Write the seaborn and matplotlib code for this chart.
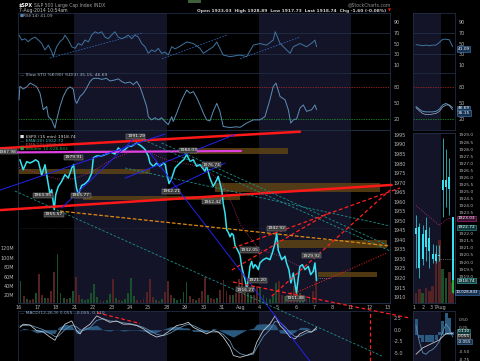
import numpy as np
import pandas as pd
import matplotlib
matplotlib.use("Agg")
import matplotlib.pyplot as plt
import seaborn as sns

# ---------------- values ----------------
day_labels = ['16', '17', '18', '21', '22', '23', '24', '25', '28', '29', '30',
              '31', 'Aug', '4', '5', '6', '7', '8', '11', '12', '13']
week_spans = [(3, 8), (13, 18)]          # shaded weeks (trading-day index)

# $SPX 15 min close, time in trading days since 16 Jul
price_t = [0.05, 0.23, 0.42, 0.6, 0.78, 0.9, 1.05, 1.23, 1.41, 1.59,
           1.68, 1.77, 1.91, 1.99, 2.13, 2.31, 2.49, 2.67, 2.86, 2.96,
           3.04, 3.12, 3.22, 3.4, 3.58, 3.76, 3.94, 4.03, 4.21, 4.48,
           4.75, 4.97, 5.2, 5.38, 5.57, 5.75, 5.92, 6.1, 6.38, 6.65,
           6.83, 7.01, 7.1, 7.28, 7.46, 7.64, 7.82, 7.93, 8.01, 8.13,
           8.28, 8.46, 8.64, 8.82, 8.93, 9.09, 9.27, 9.45, 9.63, 9.81,
           9.94, 10.08, 10.17, 10.35, 10.53, 10.72, 10.8, 10.99, 11.07, 11.17,
           11.26, 11.34, 11.44, 11.53, 11.62, 11.71, 11.85, 11.98, 12.07, 12.25,
           12.34, 12.43, 12.52, 12.61, 12.7, 12.79, 12.88, 12.97, 13.06, 13.24,
           13.42, 13.6, 13.73, 13.88, 13.97, 14.05, 14.24, 14.42, 14.5, 14.63,
           14.74, 14.87, 14.98, 15.04, 15.15, 15.23, 15.36, 15.5, 15.68, 15.81,
           15.95, 16.04, 16.13]
price_v = [1982, 1976.8, 1981, 1980.3, 1981.2, 1982, 1981, 1974, 1979.4, 1969,
           1963.8, 1966.3, 1955.8, 1963.7, 1968, 1970.6, 1974.2, 1972.4, 1977.7, 1979.5,
           1972.4, 1967, 1964, 1968.5, 1969.4, 1971.2, 1975, 1983, 1984, 1984,
           1985, 1986, 1985, 1988.2, 1986.4, 1987.3, 1989, 1989.1, 1990.8, 1989,
           1987.4, 1983.9, 1980.3, 1978.5, 1980.3, 1978.5, 1980.3, 1979.5, 1975, 1969.5,
           1972.4, 1977.7, 1979.5, 1981.2, 1982, 1984.7, 1981.2, 1982, 1978.6, 1979.5,
           1977.7, 1976, 1978.6, 1972.4, 1968, 1971.5, 1973.3, 1966, 1959, 1953.8,
           1945.2, 1944, 1941.6, 1943.4, 1942.5, 1937, 1934.7, 1932, 1926.1, 1919,
           1914.6, 1919, 1926.1, 1928.7, 1925.2, 1927, 1926.1, 1924.4, 1927.9, 1929.6,
           1930.5, 1929.6, 1933.1, 1938.3, 1943.4, 1934.7, 1929.6, 1931.4, 1927.9, 1924.4,
           1917.4, 1922.6, 1915.6, 1912.1, 1921, 1926.1, 1927, 1924.4, 1926.1, 1921.8,
           1923.5, 1927.9, 1918.7]
prev_close = 1920.24

ema_t = [0, 2, 3, 4, 5, 6, 7, 8, 9, 10, 11, 11.5, 12, 13, 14, 15, 16.13]
ema_v = [1978, 1972, 1972, 1976, 1982, 1986, 1986, 1982, 1980, 1978, 1970, 1960,
         1948, 1935, 1932, 1927, 1923]

# volume (millions), six slots per day
vol_by_day = [[50, 18, 12, 10, 12, 25], [65, 20, 15, 14, 30, 70],
              [109, 25, 15, 12, 14, 30], [60, 20, 12, 10, 12, 25],
              [45, 16, 10, 9, 11, 24], [54, 15, 10, 9, 12, 26],
              [58, 18, 11, 10, 12, 28], [54, 16, 10, 9, 13, 27],
              [50, 20, 14, 10, 12, 28], [48, 18, 12, 10, 14, 30],
              [60, 22, 14, 12, 15, 32], [53, 30, 22, 20, 25, 55],
              [82, 35, 25, 20, 22, 40], [35, 20, 14, 12, 18, 46],
              [50, 22, 18, 20, 28, 40], [46, 25, 15, 12, 16, 30], [75]]
vol_dirs = ['grgrrg', 'rrgrrr', 'gggrgg', 'rrgggg', 'ggrggg', 'rgrggg',
            'ggrrrr', 'rrgrgr', 'rrgggg', 'grrgrr', 'rgrrgr', 'rrrgrr',
            'rrggrr', 'gggggg', 'rrgrrr', 'rggrgr', 'r']

rsi_t = [0.0, 0.15, 0.33, 0.5, 0.69, 0.87, 1.05, 1.23, 1.41, 1.59,
         1.77, 1.86, 2.04, 2.22, 2.4, 2.49, 2.67, 2.86, 3.04, 3.21,
         3.4, 3.58, 3.76, 3.94, 4.12, 4.3, 4.48, 4.66, 4.84, 5.02,
         5.2, 5.38, 5.57, 5.75, 5.92, 6.11, 6.29, 6.47, 6.65, 6.83,
         7.01, 7.19, 7.37, 7.55, 7.73, 7.91, 8.09, 8.28, 8.46, 8.73,
         9.09, 9.45, 9.81, 9.99, 10.53, 10.72, 10.89, 11.07, 11.44, 11.98,
         12.34, 12.7, 13.06, 13.42, 13.78, 13.89, 14.15, 14.51, 14.69, 14.87,
         15.23, 15.59, 15.95, 16.04, 16.13]
rsi_v = [65.8, 56.5, 59, 53.4, 59, 62, 56.5, 50.3, 38, 47,
         34.8, 25.5, 44, 53.4, 59, 65.8, 56.5, 44, 41, 50,
         47, 56.5, 53, 65.8, 72, 69, 72, 62, 59, 65.8,
         72, 62, 59, 62, 65.8, 59, 65.8, 62, 50, 44,
         31.7, 38, 35, 41, 31.7, 34, 28.6, 44, 40, 45,
         53, 50, 41, 31.7, 44, 53, 41, 28.6, 25.5, 28.6,
         25.5, 47, 50, 47, 56.5, 72, 50, 38, 31.7, 44,
         50, 44, 53, 56.5, 44]
rsi_trends = [((1.68, 23), (6.72, 70)), ((7.75, 21.4), (11.27, 65.8)),
              ((11.98, 21.4), (15.23, 62))]

sto_t = [0.0, 0.05, 0.23, 0.42, 0.6, 0.78, 0.96, 1.14, 1.32, 1.5,
         1.59, 1.77, 1.95, 2.04, 2.22, 2.4, 2.59, 2.76, 2.94, 3.04,
         3.13, 3.31, 3.49, 3.67, 3.85, 4.03, 4.3, 4.48, 4.75, 4.93,
         5.2, 5.38, 5.57, 5.75, 6.02, 6.2, 6.38, 6.56, 6.74, 6.92,
         7.01, 7.19, 7.37, 7.55, 7.73, 7.91, 8.09, 8.28, 8.36, 8.55,
         8.82, 9.09, 9.27, 9.45, 9.63, 9.81, 9.99, 10.17, 10.35, 10.53,
         10.72, 10.89, 11.07, 11.44, 11.8, 11.98, 12.34, 12.7, 13.06, 13.33,
         13.6, 13.78, 13.93, 14.15, 14.42, 14.6, 14.73, 14.87, 15.05, 15.23,
         15.41, 15.59, 15.86, 16.04, 16.13]
sto_v = [55.6, 81, 76, 80, 87, 84, 80, 68, 37, 43,
         24, 18, 2.5, 18, 43, 62, 75, 80, 76, 55,
         49, 62, 68, 78, 90, 96, 96, 94, 96, 91,
         93, 95, 90, 87, 89, 84, 90, 80, 62, 43,
         24, 18, 22, 18, 22, 15, 9, 24, 15, 31,
         55.6, 74, 68, 71, 60, 46, 31, 18, 16, 34,
         49, 34, 5.5, 3.7, 5, 4, 12, 18, 18, 24,
         55.6, 80.6, 87, 62, 55.6, 37, 12, 18, 20, 40,
         46, 34, 37, 46, 37]

macd_t = [0.05, 0.23, 0.6, 0.96, 1.32, 1.68, 1.95, 2.13, 2.49, 2.86,
          3.12, 3.31, 3.49, 3.85, 4.21, 4.57, 4.93, 5.29, 5.65, 6.02,
          6.38, 6.74, 7.1, 7.46, 7.82, 8.18, 8.55, 8.91, 9.18, 9.45,
          9.81, 10.17, 10.53, 10.8, 11.07, 11.44, 11.62, 11.98, 12.34, 12.7,
          12.88, 13.24, 13.6, 13.88, 14.15, 14.42, 14.69, 14.96, 15.23, 15.59,
          15.86, 16.13]
macd_v = [0.5, 1.2, 1.0, -0.2, -0.5, -1.6, -2.3, -0.9, 1.2, 1.9,
          -0.2, -0.9, 0.2, 1.2, 3.0, 2.3, 1.6, 1.9, 1.2, 1.2,
          0.9, 0.2, -0.9, -1.6, -1.2, -0.2, 0.9, 1.2, 1.6, 0.5,
          -0.2, -0.9, -0.2, -0.5, -1.6, -3.8, -5.6, -6.0, -5.6, -5.0,
          -2.8, -0.2, 1.2, 3.0, 0.9, -0.2, -1.6, -2.0, -0.9, -0.2,
          -0.5, 0.5]
signal_v = [0.8, 0.9, 1.0, 0.5, 0.0, -0.8, -1.5, -1.4, 0.0, 1.0,
            0.6, 0.0, -0.2, 0.5, 2.0, 2.4, 1.9, 1.8, 1.5, 1.3,
            1.0, 0.5, -0.2, -1.0, -1.3, -0.8, 0.1, 0.8, 1.2, 0.9,
            0.2, -0.5, -0.5, -0.5, -1.0, -2.5, -4.0, -5.2, -5.6, -5.3,
            -4.0, -1.5, 0.0, 1.8, 1.6, 0.6, -0.6, -1.5, -1.4, -0.7,
            -0.5, 0.1]
macd_trend = ((4.23, 3.7), (6.56, 1.35))
macd_vline = 19.0

# trend lines drawn on the price panel: ((t0, p0), (t1, p1))
red_solid = [((-1.03, 1988.0), (15.23, 1996.7)), ((-1.03, 1955.6), (20.2, 1968.8))]
magenta_line = ((-1.03, 1985.8), (12.03, 1986.6))
blue_lines = [((-1.03, 1966.1), (7.91, 1995.5)), ((2.31, 1956.7), (6.4, 1994.7)),
              ((5.75, 1972.4), (11.71, 1995.2)), ((8.08, 1966.1), (11.17, 1980.3)),
              ((7.1, 1985.6), (15.77, 1876.4))]
teal_lines = [((-0.22, 1965.6), (19.67, 1879.1)), ((7.73, 1990.8), (19.95, 1937.3)),
              ((6.56, 1993.3), (20.11, 1934.2)), ((5.75, 1977.7), (20.11, 1947.3))]
orange_line = ((2.22, 1955.1), (20.11, 1936.8))
red_dashed = [((11.6, 1935.7), (20.65, 1967.2)), ((11.54, 1924.2), (16.86, 1954.6)),
              ((11.6, 1917.9), (21.19, 1899.0)), ((13.7, 1910.5), (20.11, 1966.1))]
red_dotted = [((14.85, 1911.6), (19.95, 1933.1))]

# support / resistance zones: (t0, t1, low, high)
zones = [(9.27, 14.58, 1985.0, 1988.2), (-0.05, 7.1, 1974.5, 1977.2),
         (10.62, 19.57, 1965.1, 1969.8), (3.47, 11.98, 1960.9, 1963.2),
         (13.98, 19.95, 1935.7, 1939.9), (16.2, 19.4, 1920.5, 1923.1)]

# price annotations
lbl_t = [-0.6, 2.93, 6.34, 9.16, 10.41, 1.3, 3.36, 1.9, 8.24, 10.46,
         12.47, 13.98, 12.95, 12.25, 15.01, 15.83]
lbl_p = [1986.1, 1983.2, 1994.2, 1986.9, 1979.5, 1963.5, 1963.5, 1953.3, 1965.4, 1960.1,
         1934.7, 1946.2, 1918.9, 1913.9, 1909.5, 1931.8]
lbl_txt = ['1987.98', '1979.91', '1991.29', '1984.03', '1976.74', '1963.95', '1965.77',
           '1955.57', '1962.21', '1962.42', '1932.05', '1942.92', '1921.20', '1916.27',
           '1911.48', '1929.92']

# small intraday panel on the right
mini_open = [1922.4, 1922.5, 1920.2, 1921.1, 1921.7, 1920.6, 1920.1, 1920.4, 1925.1, 1925.8, 1925.2, 1923.2]
mini_close = [1922.0, 1919.6, 1922.0, 1922.3, 1920.8, 1920.2, 1920.6, 1920.5, 1925.8, 1925.3, 1926.0, 1918.7]
mini_high = [1923.3, 1922.8, 1922.6, 1923.2, 1922.5, 1921.3, 1921.2, 1921.2, 1928.8, 1928.0, 1927.4, 1923.2]
mini_low = [1919.6, 1918.9, 1919.8, 1920.1, 1919.6, 1919.9, 1919.9, 1920.1, 1923.2, 1923.9, 1923.3, 1917.8]
mini_vol = [6, 8, 6, 9, 7, 10, 30, 37, 20, 15, 18, 12]
mini_vol_dirs = 'rrgrrrrrggrr'
mini_ema = [1924.0, 1923.8, 1923.6, 1923.4, 1923.2, 1923.0, 1922.8, 1922.6, 1922.8, 1923.0, 1923.1, 1923.0]
mini_rsi = [48, 47, 46, 47, 46, 47, 47, 52, 58, 58, 57, 44]
mini_sto_k = [43, 38, 34, 33, 33, 33, 34, 38, 46, 49, 45, 37]
mini_sto_d = [41, 35, 30, 28, 28, 29, 30, 34, 42, 46, 46, 41]
mini_hist = [0.5, -0.1, -0.2, -0.22, -0.22, -0.2, -0.15, 0.1, 0.45, 0.7, 0.55, 0.11]
mini_macd = [-0.6, -0.5, -0.4, -0.35, -0.3, -0.25, -0.2, -0.15, -0.05, 0.05, 0.06, 0.055]
mini_signal = [0.3, -0.2, -0.55, -0.6, -0.5, -0.45, -0.35, -0.2, 0.1, 0.35, 0.2, -0.055]
mini_tick_pos = [-0.6, 2.1, 4.5, 7.2]
mini_tick_lbl = ['1', '2', '3', '7Aug']
mini_shade = (-0.9, 7.5)

# ---------------- styling ----------------
W, H = 480, 361
BG = '#000000'
SHADE = '#141428'
FRAME = '#1f2d42'
TXT = '#b4b4b4'
CYAN = '#36e2f0'
GREEN_V = '#1a5029'
RED_V = '#542222'

sns.set_theme(style="dark", rc={'axes.facecolor': BG, 'figure.facecolor': BG,
                                'axes.edgecolor': FRAME, 'text.color': TXT,
                                'axes.grid': False})
plt.rcParams['font.family'] = ['DejaVu Sans']

fig = plt.figure(figsize=(4.8, 3.61), dpi=100, facecolor=BG)


def px_axes(x0, y0, x1, y1):
    return fig.add_axes([x0 / W, 1 - y1 / H, (x1 - x0) / W, (y1 - y0) / H])


def style(ax, right=True):
    ax.set_facecolor(BG)
    for s in ax.spines.values():
        s.set_color(FRAME)
        s.set_linewidth(0.6)
    ax.tick_params(axis='both', length=0, labelsize=3.5, colors=TXT, pad=2.5)
    if right:
        ax.yaxis.tick_right()
    ax.grid(False)


def ftxt(x, y, s, **kw):
    fig.text(x / W, 1 - y / H, s, va='center', **kw)


def seg(ax, pair, **kw):
    (t0, v0), (t1, v1) = pair
    ax.plot([t0, t1], [v0, v1], clip_on=False, **kw)


def box(ax, y, s, fc, ec, tc='white', size=3.1, x=1.06):
    ax.text(x, y, s, transform=ax.get_yaxis_transform(), fontsize=size, color=tc,
            ha='left', va='center', clip_on=False, zorder=9,
            bbox=dict(boxstyle='square,pad=0.15', fc=fc, ec=ec, lw=0.4))


def tick_labels(ax, values, fmt, hidden=()):
    ax.set_yticks(values)
    ax.set_yticklabels(['' if any(abs(v - h) < 1e-6 for h in hidden) else fmt.format(v)
                        for v in values])


L, R = 18, 390
SL, SR = 413, 455
XLIM = (-0.054, 20.11)
MXLIM = (-0.9, 11.7)

ax_rsi = px_axes(L, 13, R, 73)
ax_sto = px_axes(L, 73, R, 130)
ax_macd = px_axes(L, 311, R, 361)
ax_vol = px_axes(L, 130, R, 303)
ax_p = px_axes(L, 130, R, 303)
m_rsi = px_axes(SL, 13, SR, 73)
m_sto = px_axes(SL, 73, SR, 130)
m_macd = px_axes(SL, 311, SR, 361)
m_vol = px_axes(SL, 133, SR, 303)
m_p = px_axes(SL, 133, SR, 303)
ax_vol.set_zorder(1)
ax_p.set_zorder(2)
m_vol.set_zorder(1)
m_p.set_zorder(2)

for ax in [ax_rsi, ax_sto, ax_macd, ax_vol, ax_p]:
    style(ax)
    ax.set_xlim(*XLIM)
    if ax is not ax_p:
        for a, b in week_spans:
            ax.axvspan(a, b, color=SHADE, lw=0, zorder=0)
for ax in [m_rsi, m_sto, m_macd, m_vol, m_p]:
    style(ax)
    ax.set_xlim(*MXLIM)
    if ax is not m_p:
        ax.axvspan(*mini_shade, color=SHADE, lw=0, zorder=0)
ax_p.set_facecolor('none')
m_p.set_facecolor('none')

# ---------------- RSI ----------------
sns.lineplot(x=rsi_t, y=rsi_v, ax=ax_rsi, color='#3f74a0', linewidth=0.7, zorder=3)
for lvl in (70, 30):
    ax_rsi.axhline(lvl, color='#24344c', lw=0.5, zorder=1)
for tr in rsi_trends:
    seg(ax_rsi, tr, color='#2e5fa8', lw=0.6, ls=(0, (2, 1.5)), zorder=2)
ax_rsi.set_ylim(-5, 107)
ax_rsi.set_yticks([90, 70, 50, 30, 10])
ax_rsi.set_xticks([])

sns.lineplot(x=np.arange(len(mini_rsi)), y=mini_rsi, ax=m_rsi, color='#3f74a0', linewidth=0.7)
for lvl in (70, 30):
    m_rsi.axhline(lvl, color='#24344c', lw=0.5, zorder=1)
m_rsi.set_ylim(-5, 107)
m_rsi.set_yticks([90, 70, 50, 30, 10])
m_rsi.set_xticks([])
box(m_rsi, 40, '41.09', '#16324e', '#4f86c0')

# ---------------- Slow STO ----------------
sns.lineplot(x=sto_t, y=sto_v, ax=ax_sto, color='#5c8fb8', linewidth=0.7, zorder=3)
ax_sto.axhline(80, color='#b02a2a', lw=0.5, ls=(0, (2, 1.5)))
ax_sto.axhline(20, color='#1fa02a', lw=0.5, ls=(0, (2, 1.5)))
ax_sto.set_ylim(-1, 106)
ax_sto.set_yticks([80, 50, 20])
ax_sto.set_xticks([])

sns.lineplot(x=np.arange(len(mini_sto_k)), y=mini_sto_k, ax=m_sto, color='#5c8fb8', linewidth=0.7)
sns.lineplot(x=np.arange(len(mini_sto_d)), y=mini_sto_d, ax=m_sto, color='#9ab4cc', linewidth=0.5)
m_sto.axhline(80, color='#b02a2a', lw=0.5, ls=(0, (2, 1.5)))
m_sto.axhline(20, color='#1fa02a', lw=0.5, ls=(0, (2, 1.5)))
m_sto.set_ylim(-1, 106)
m_sto.set_yticks([80, 50, 20])
m_sto.set_xticks([])
box(m_sto, 40, '46.69', '#16324e', '#4f86c0')
box(m_sto, 31, '35.15', '#16324e', '#4f86c0')

# ---------------- volume ----------------
rows = []
for d, (vals, dirs) in enumerate(zip(vol_by_day, vol_dirs)):
    for k, (v, c) in enumerate(zip(vals, dirs)):
        rows.append((d + (k + 0.5) / 6, v, c))
vol_df = pd.DataFrame(rows, columns=['t', 'vol', 'dir'])
ax_vol.bar(vol_df['t'], vol_df['vol'], width=0.1,
           color=vol_df['dir'].map({'g': GREEN_V, 'r': RED_V}), lw=0, zorder=2)
ax_vol.set_ylim(4, 372)
ax_vol.yaxis.tick_left()
ax_vol.set_yticks([20, 40, 60, 80, 100, 120])
ax_vol.set_yticklabels(['20M', '40M', '60M', '80M', '100M', '120M'])
ax_vol.set_xticks([])

# ---------------- price ----------------
for t0, t1, lo, hi in zones:
    ax_p.fill_between([t0, t1], lo, hi, color='#5e4214', alpha=0.85, lw=0, zorder=1)
ax_p.axhline(1946.2, color='#3a3a3a', lw=0.4, ls=':', zorder=1)
sns.lineplot(x=ema_t, y=ema_v, ax=ax_p, color='#c0307e', linewidth=0.6, linestyle=':', zorder=3)
sns.lineplot(x=price_t, y=price_v, ax=ax_p, color=CYAN, linewidth=1.1, zorder=4)
ax_p.hlines(prev_close, 16.2, 16.9, color='#b0b0b0', lw=0.5, ls=':', zorder=4)

for pr in red_solid:
    seg(ax_p, pr, color='#ff1818', lw=1.8, zorder=5)
seg(ax_p, magenta_line, color='#e040e0', lw=1.6, zorder=5)
for pr in blue_lines:
    seg(ax_p, pr, color='#2222ee', lw=0.7, zorder=5)
for pr in teal_lines:
    seg(ax_p, pr, color='#1c9090', lw=0.6, ls=(0, (3, 2)), zorder=5)
seg(ax_p, orange_line, color='#e08a10', lw=0.9, ls=(0, (3, 1.5)), zorder=5)
for pr in red_dashed:
    seg(ax_p, pr, color='#ff2020', lw=0.9, ls=(0, (3, 2)), zorder=5)
for pr in red_dotted:
    seg(ax_p, pr, color='#ff2020', lw=0.7, ls=':', zorder=5)

for t, p, s in zip(lbl_t, lbl_p, lbl_txt):
    ax_p.text(t, p, s, fontsize=3.2, color='white', ha='center', va='center', zorder=8,
              clip_on=False, bbox=dict(boxstyle='square,pad=0.12', fc='#3a3a3a', ec='#9a9a9a', lw=0.3))

ax_p.set_ylim(1906.9, 1997.6)
ax_p.set_yticks(np.arange(1910, 1996, 5))
ax_p.set_xticks(range(len(day_labels)))
ax_p.set_xticklabels(day_labels)
ax_p.tick_params(axis='x', pad=1.5)

# small intraday candles
mi = np.arange(len(mini_open))
m_vol.bar(mi, mini_vol, width=0.8, color=[GREEN_V if c == 'g' else RED_V for c in mini_vol_dirs], lw=0)
m_vol.set_ylim(0, 100)
m_vol.set_yticks([])
m_vol.set_xticks([])
m_p.vlines(mi, mini_low, mini_high, color=CYAN, lw=0.5, zorder=3)
m_p.bar(mi, np.array(mini_close) - np.array(mini_open), bottom=mini_open, width=0.55,
        color=CYAN, lw=0, zorder=4)
m_p.vlines(mi[-1], mini_low[-1], mini_close[-1], color='#22b040', lw=1.6, zorder=4)
sns.lineplot(x=mi, y=mini_ema, ax=m_p, color='#c0307e', linewidth=0.6, linestyle=':', zorder=3)
m_p.hlines(prev_close, 7, 11.4, color='#b0b0b0', lw=0.5, ls=':', zorder=3)
m_p.set_ylim(1917.1, 1929.14)
tick_labels(m_p, np.arange(1917.5, 1929.01, 0.5), '{:.1f}',
            hidden=(1923.0, 1922.5, 1918.5, 1918.0, 1917.5))
m_p.tick_params(axis='y', labelsize=3.2)
m_p.set_xticks(mini_tick_pos)
m_p.set_xticklabels(mini_tick_lbl)
m_p.tick_params(axis='x', pad=1.5)
box(m_p, 1923.1, '1923.03', '#3a1030', '#c03090')
box(m_p, 1922.45, '1922.72', '#103838', '#2aa0a0')
box(m_p, 1918.67, '1918.74', '#1a4040', '#40c0c0')
box(m_p, 1917.85, '10,028,843', '#1a3050', '#4080c0', size=2.8, x=1.02)

# ---------------- MACD ----------------
hist = np.array(macd_v) - np.array(signal_v)
ax_macd.fill_between(macd_t, 0, hist, color='#2b5a80', lw=0, zorder=2)
sns.lineplot(x=macd_t, y=signal_v, ax=ax_macd, color='#5d8bb0', linewidth=0.6, zorder=3)
sns.lineplot(x=macd_t, y=macd_v, ax=ax_macd, color='#c4c8cc', linewidth=0.6, zorder=4)
seg(ax_macd, macd_trend, color='#ff2020', lw=0.9, ls=(0, (3, 2)), zorder=5)
ax_macd.axvline(macd_vline, color='#ff2020', lw=0.9, ls=(0, (3, 2)), zorder=5)
ax_macd.set_ylim(-6.8, 4.06)
ax_macd.set_yticks([2.5, 0, -2.5, -5.0])
ax_macd.set_yticklabels(['2.5', '0.0', '-2.5', '-5.0'])
ax_macd.set_xticks([])

m_macd.bar(mi, mini_hist, width=0.9, color='#2b5a80', lw=0)
sns.lineplot(x=mi, y=mini_signal, ax=m_macd, color='#5d8bb0', linewidth=0.6)
sns.lineplot(x=mi, y=mini_macd, ax=m_macd, color='#c4c8cc', linewidth=0.6)
m_macd.set_ylim(-0.81, 0.756)
tick_labels(m_macd, [0.5, 0.25, 0.0, -0.25, -0.5, -0.75], '{:.2f}', hidden=(0.0, -0.25))
m_macd.tick_params(axis='y', labelsize=3.2)
m_macd.set_xticks([])
box(m_macd, 0.12, '0.110', '#103838', '#2aa0a0')
box(m_macd, -0.04, '0.055', '#303030', '#a0a0a0')
box(m_macd, -0.2, '-0.055', '#16324e', '#4f86c0')

for ax in fig.axes:
    ax.set_xlabel('')
    ax.set_ylabel('')
    if ax.get_legend() is not None:
        ax.get_legend().remove()

# ---------------- header & panel titles ----------------
ftxt(19, 5.3, '$SPX', fontsize=3.4, color='white', weight='bold')
ftxt(34, 5.3, 'S&P 500 Large Cap Index INDX', fontsize=3.3, color='#a0a0a0')
ftxt(19, 10.7, '7-Aug-2014 10:54am', fontsize=3.3, color='#c0c0c0')
ftxt(386, 10.7, 'Open 1923.03  High 1928.89  Low 1917.73  Last 1918.74  Chg -1.60 (-0.08%)',
     fontsize=3.2, color='#d0d0d0', ha='right', weight='bold')
ftxt(389, 10.7, '\u25bc', fontsize=2.8, color='#ff2020', ha='center')
ftxt(391, 5.0, '@StockCharts.com', fontsize=3.3, color='#8a8a8a', ha='right')
fig.patches.append(plt.Rectangle((188 / W, 1 - 3 / H), 13 / W, 3 / H, transform=fig.transFigure,
                                 color='#3f5f3a', lw=0))

ftxt(20, 16.2, '\u25a0', fontsize=2.6, color='#4f86c0')
ftxt(23, 16.2, 'RSI(14) 41.09', fontsize=3.2, color='#a8b8c8')
ftxt(20, 75.5, '\u2014 Slow STO %K(90) %D(3) 35.15, 46.69', fontsize=3.2, color='#a8b8c8')
ftxt(20, 136.7, '\u25a0 $SPX (15 min) 1918.74', fontsize=3.2, color='#e0e0e0')
ftxt(20, 141.0, '\u2014 EMA(20) 1922.72', fontsize=3.2, color='#40b0b0')
ftxt(20, 145.2, '\u2014 EMA(50) 1929.67', fontsize=3.2, color='#c04040')
ftxt(20, 149.4, '\u25a0 Volume 10,028,843', fontsize=3.2, color='#30a050')
ftxt(20, 313.3, '\u2014 MACD(12,26,9) 0.055, -0.055, 0.110', fontsize=3.2, color='#8fb0d0')

fig.savefig('out.png', dpi=100, facecolor=BG)
